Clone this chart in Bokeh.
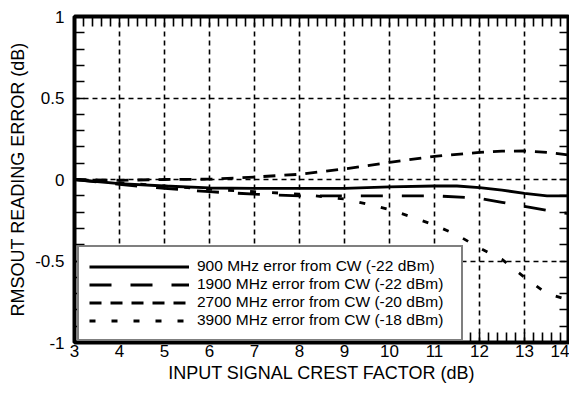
from bokeh.plotting import figure
from bokeh.models import LinearAxis, Range1d, Legend, LegendItem, FixedTicker
from bokeh.embed import file_html
from bokeh.resources import INLINE

# ---- data ----
x_900 = [3, 4, 5, 6, 7, 8, 9, 10, 11, 11.5, 12, 12.5, 13, 13.5, 14]
y_900 = [0, -0.025, -0.04, -0.052, -0.055, -0.055, -0.055, -0.045, -0.04, -0.04, -0.05, -0.065, -0.085, -0.1, -0.1]

x_1900 = [3, 4, 5, 6, 7, 8, 9, 10, 11, 12, 12.5, 13, 13.5, 14]
y_1900 = [0, -0.03, -0.055, -0.075, -0.09, -0.1, -0.1, -0.1, -0.1, -0.115, -0.14, -0.165, -0.19, -0.21]

x_2700 = [3, 4, 5, 6, 7, 8, 9, 10, 11, 12, 12.5, 13, 13.5, 14]
y_2700 = [0, -0.005, 0, 0.002, 0.015, 0.032, 0.065, 0.105, 0.142, 0.166, 0.174, 0.175, 0.166, 0.15]

x_3900 = [3, 4, 5, 6, 7, 8, 9, 9.5, 10, 10.5, 11, 11.5, 12, 12.5, 13, 13.5, 14]
y_3900 = [0, -0.02, -0.04, -0.06, -0.075, -0.09, -0.12, -0.15, -0.185, -0.23, -0.28, -0.34, -0.42, -0.49, -0.6, -0.7, -0.74]

series_labels = [
    "900 MHz error from CW (-22 dBm)",
    "1900 MHz error from CW (-22 dBm)",
    "2700 MHz error from CW (-20 dBm)",
    "3900 MHz error from CW (-18 dBm)",
]

x_ticks = [3, 4, 5, 6, 7, 8, 9, 10, 11, 12, 13, 14]
y_ticks = [-1, -0.5, 0, 0.5, 1]
y_tick_labels = ["-1", "-0.5", "0", "0.5", "1"]
x_minor = [round(3 + 0.2 * i, 2) for i in range(56)]
y_minor = [round(-1 + 0.1 * i, 2) for i in range(21)]

x_title = "INPUT SIGNAL CREST FACTOR (dB)"
y_title = "RMSOUT READING ERROR (dB)"

FONT = "Liberation Sans"

p = figure(width=569, height=386, output_backend="svg", toolbar_location=None,
           x_range=Range1d(3, 14), y_range=Range1d(-1, 1),
           min_border_left=74, min_border_right=0, min_border_top=16, min_border_bottom=44,
           background_fill_color="white", border_fill_color="white")

p.outline_line_color = "black"
p.outline_line_width = 4

# grid
p.xgrid.ticker = FixedTicker(ticks=x_ticks)
p.ygrid.ticker = FixedTicker(ticks=y_ticks)
for g in (p.xgrid, p.ygrid):
    g.grid_line_color = "black"
    g.grid_line_width = 1.6
    g.grid_line_dash = "5 4"

def tick_style(a):
    a.axis_line_color = None
    a.major_tick_in = 0
    a.major_tick_out = 0
    a.minor_tick_in = 10
    a.minor_tick_out = 0
    a.minor_tick_line_color = "black"
    a.minor_tick_line_width = 1.6

# main axes
xa = p.xaxis[0]
ya = p.yaxis[0]
xa.ticker = FixedTicker(ticks=x_ticks, minor_ticks=x_minor)
ya.ticker = FixedTicker(ticks=y_ticks, minor_ticks=y_minor)
ya.major_label_overrides = {t: l for t, l in zip(y_ticks, y_tick_labels)}
xa.axis_label = x_title
ya.axis_label = y_title
for a in (xa, ya):
    tick_style(a)
    a.major_label_text_font = FONT
    a.major_label_text_font_size = "17px"
    a.major_label_text_color = "black"
    a.axis_label_text_font = FONT
    a.axis_label_text_font_size = "18px"
    a.axis_label_text_font_style = "normal"
    a.axis_label_text_color = "black"
xa.major_label_standoff = 2
xa.axis_label_standoff = 3
ya.major_label_standoff = 10
ya.axis_label_standoff = 4

# mirrored minor ticks on top and right (no major ticks, so no labels)
top = LinearAxis(ticker=FixedTicker(ticks=[], minor_ticks=x_minor))
right = LinearAxis(ticker=FixedTicker(ticks=[], minor_ticks=y_minor))
for a in (top, right):
    tick_style(a)
    a.major_label_standoff = 0
p.add_layout(top, "above")
p.add_layout(right, "right")

# curves
r1 = p.line(x_900, y_900, line_color="black", line_width=2.8)
r2 = p.line(x_1900, y_1900, line_color="black", line_width=2.8, line_dash="22 19")
r3 = p.line(x_2700, y_2700, line_color="black", line_width=2.8, line_dash="12 9")
r4 = p.line(x_3900, y_3900, line_color="black", line_width=2.8, line_dash="6 16")

legend = Legend(items=[LegendItem(label=l, renderers=[r]) for l, r in zip(series_labels, [r1, r2, r3, r4])],
                location=(3, 1), margin=0, padding=10, spacing=0,
                glyph_width=100, glyph_height=15, label_height=15, label_width=254, label_standoff=8,
                label_text_font=FONT, label_text_font_size="15.5px", label_text_color="black",
                border_line_color="black", border_line_width=2.5,
                background_fill_color="white", background_fill_alpha=1.0)
p.add_layout(legend, "center")

open("out.html", "w").write(file_html(p, INLINE))
